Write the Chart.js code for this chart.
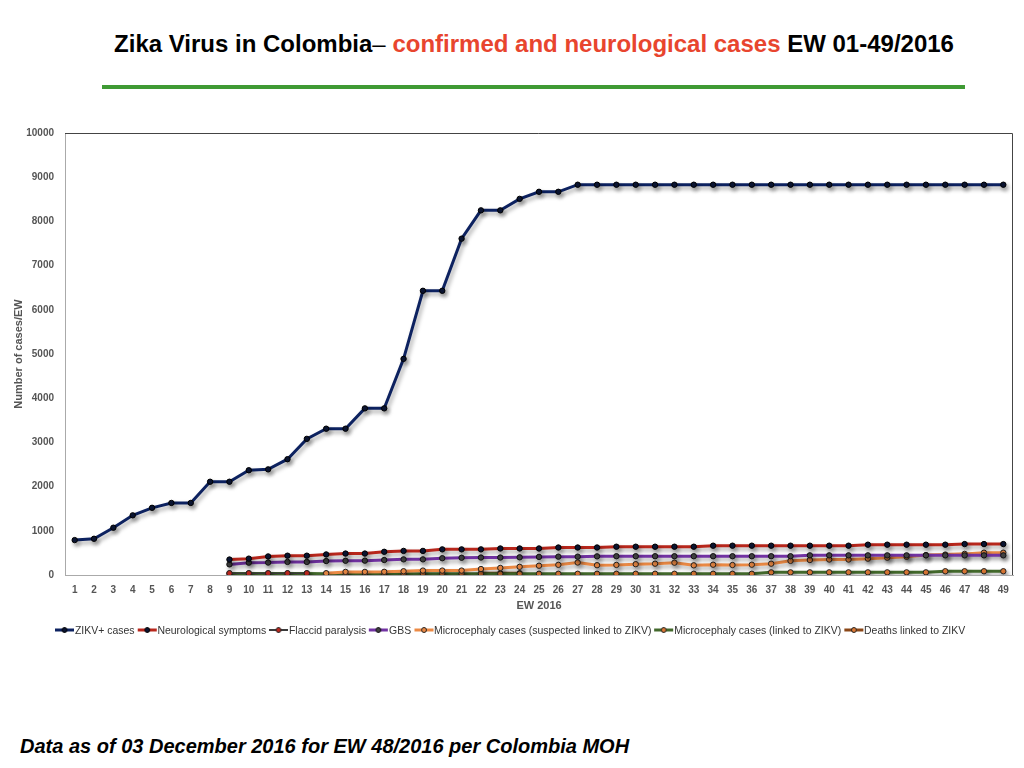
<!DOCTYPE html>
<html>
<head>
<meta charset="utf-8">
<script src="https://cdn.jsdelivr.net/npm/chart.js@4.4.1/dist/chart.umd.min.js"></script>
<style>
  html, body { margin: 0; padding: 0; background: #fff; }
  body { width: 1024px; height: 768px; position: relative; overflow: hidden; font-family: "Liberation Sans", Arial, sans-serif; }
  #title { position: absolute; left: 0; width: 1068px; top: 30px; text-align: center; font-weight: bold; font-size: 24px; color: #000; white-space: nowrap; }
  #title .red { color: #e8452e; }
  #rule { position: absolute; left: 102px; width: 863px; top: 85px; height: 4px; background: #3f9a34; }
  #wrap { position: absolute; left: 0; top: 120px; width: 1024px; height: 497px; }
  #legend { position: absolute; left: 55px; top: 624px; display: flex; align-items: center; white-space: nowrap;
            font-size: 11px; color: #333; transform-origin: 0 50%; }
  #legend .item { display: flex; align-items: center; margin-right: 3px; }
  #legend canvas { margin-right: 1px; }
  #foot { position: absolute; left: 20px; top: 735px; font-weight: bold; font-style: italic; font-size: 20px; color: #000; white-space: nowrap; }
</style>
</head>
<body>
<div id="title">Zika Virus in Colombia<span style="font-weight:normal">–</span>  <span class="red">confirmed and neurological cases</span> EW 01-49/2016</div>
<div id="rule"></div>
<div id="wrap"><canvas id="chart"></canvas></div>
<div id="legend"></div>
<div id="foot">Data as of 03 December 2016 for EW 48/2016 per Colombia MOH</div>
<script>
/* ── Data ────────────────────────────────────────────────────── */
const weeks = ['1','2','3','4','5','6','7','8','9','10','11','12','13','14','15','16','17','18','19','20',
  '21','22','23','24','25','26','27','28','29','30','31','32','33','34','35','36','37','38','39','40',
  '41','42','43','44','45','46','47','48','49'];
const yTicks = [0, 1000, 2000, 3000, 4000, 5000, 6000, 7000, 8000, 9000, 10000];

const zikvCases = [790, 820, 1070, 1350, 1520, 1630, 1630, 2110, 2110, 2370,
  2390, 2620, 3080, 3310, 3310, 3770, 3770, 4890, 6430, 6430,
  7610, 8250, 8250, 8510, 8670, 8670, 8830, 8830, 8830, 8830,
  8830, 8830, 8830, 8830, 8830, 8830, 8830, 8830, 8830, 8830,
  8830, 8830, 8830, 8830, 8830, 8830, 8830, 8830, 8830];
const neuroSymptoms = [null, null, null, null, null, null, null, null, 350, 370,
  420, 437, 437, 465, 485, 485, 525, 545, 545, 580,
  580, 580, 600, 600, 600, 622, 622, 622, 640, 640,
  640, 640, 640, 663, 663, 663, 663, 663, 663, 663,
  663, 686, 686, 686, 686, 686, 700, 700, 700];
const flaccidParalysis = [null, null, null, null, null, null, null, null, 40, 40,
  40, 40, 40, null, null, null, null, null, null, null,
  null, null, null, null, null, null, null, null, null, null,
  null, null, null, null, null, null, null, null, null, null,
  null, null, null, null, null, null, null, null, null];
const gbs = [null, null, null, null, null, null, null, null, 240, 279,
  282, 296, 296, 316, 322, 325, 339, 354, 354, 380,
  390, 395, 395, 400, 410, 415, 415, 422, 425, 425,
  425, 425, 425, 425, 425, 425, 425, 425, 445, 445,
  445, 445, 445, 445, 445, 445, 445, 445, 445];
const microSuspected = [null, null, null, null, null, null, null, null, null, null,
  null, null, null, 40, 70, 70, 72, 85, 100, 100,
  100, 135, 160, 185, 210, 230, 283, 222, 228, 245,
  256, 279, 219, 233, 226, 233, 256, 320, 339, 350,
  350, 370, 392, 412, 450, 462, 478, 505, 505];
const microLinked = [null, null, null, null, null, null, null, null, 35, 35,
  35, 35, 35, 28, 28, 28, 28, 28, 28, 28,
  28, 28, 28, 28, 28, 28, 28, 28, 28, 28,
  28, 28, 28, 28, 28, 28, 60, 60, 60, 60,
  60, 60, 60, 60, 60, 85, 85, 85, 85];
const deaths = [null, null, null, null, null, null, null, null, null, null,
  null, null, null, null, null, null, null, null, null, null,
  null, 40, 40, 40, null, null, null, null, null, null,
  null, null, null, null, null, null, null, null, null, null,
  null, null, null, null, null, null, null, null, null];

/* ── Series styling ──────────────────────────────────────────── */
const series = [
  { label: 'ZIKV+ cases', data: zikvCases, line: '#0d2260', dot: '#0b1533', dotBorder: '#000', width: 3 },
  { label: 'Neurological symptoms', data: neuroSymptoms, line: '#b8271c', dot: '#0b1533', dotBorder: '#000', width: 3 },
  { label: 'Flaccid paralysis', data: flaccidParalysis, line: '#3a3a3a', dot: '#c0281e', dotBorder: '#222', width: 1.5 },
  { label: 'GBS', data: gbs, line: '#7233a3', dot: '#444', dotBorder: '#111', width: 3 },
  { label: 'Microcephaly cases (suspected linked to ZIKV)', data: microSuspected, line: '#ec8a45', dot: '#ec8a45', dotBorder: '#222', width: 3 },
  { label: 'Microcephaly cases (linked to ZIKV)', data: microLinked, line: '#43692c', dot: '#e07a35', dotBorder: '#222', width: 3 },
  { label: 'Deaths linked to ZIKV', data: deaths, line: '#8b4717', dot: '#e07a35', dotBorder: '#222', width: 3 },
];

// little "line with dot" swatch for the legend
function swatch(s) {
  const c = document.createElement('canvas');
  c.width = 20; c.height = 8;
  const g = c.getContext('2d');
  g.strokeStyle = s.line; g.lineWidth = Math.max(2, s.width);
  g.beginPath(); g.moveTo(0, 4); g.lineTo(20, 4); g.stroke();
  g.fillStyle = s.dot; g.strokeStyle = s.dotBorder; g.lineWidth = 1;
  g.beginPath(); g.arc(10, 4, 2.5, 0, Math.PI * 2); g.fill(); g.stroke();
  return c;
}

/* ── Legend (html, squeezed to the reference width) ──────────── */
const legendEl = document.getElementById('legend');
series.forEach(s => {
  const item = document.createElement('span');
  item.className = 'item';
  item.appendChild(swatch(s));
  item.appendChild(document.createTextNode(s.label));
  legendEl.appendChild(item);
});
legendEl.style.transform = `scaleX(${913 / legendEl.scrollWidth})`;

/* ── Plugins ─────────────────────────────────────────────────── */
const lineShadow = {
  id: 'lineShadow',
  beforeDatasetsDraw(chart) {
    const ctx = chart.ctx;
    ctx.save();
    ctx.shadowColor = 'rgba(0,0,0,0.35)';
    ctx.shadowBlur = 4;
    ctx.shadowOffsetX = 2;
    ctx.shadowOffsetY = 3;
  },
  afterDatasetsDraw(chart) { chart.ctx.restore(); }
};

const frame = {
  id: 'frame',
  afterDraw(chart) {
    const { ctx, chartArea: a } = chart;
    ctx.save();
    ctx.strokeStyle = '#444';
    ctx.lineWidth = 1;
    ctx.beginPath();
    ctx.moveTo(a.left, a.top + 0.5); ctx.lineTo(a.right - 0.5, a.top + 0.5); ctx.lineTo(a.right - 0.5, a.bottom);
    ctx.stroke();
    ctx.restore();
  }
};

/* ── Chart ───────────────────────────────────────────────────── */
const tickFont = { family: '"Liberation Sans", Arial, sans-serif', size: 10, weight: 'bold' };
const titleFont = { family: '"Liberation Sans", Arial, sans-serif', size: 11, weight: 'bold' };

new Chart(document.getElementById('chart'), {
  type: 'line',
  data: {
    labels: weeks,
    datasets: series.map(s => ({
      label: s.label,
      data: s.data,
      borderColor: s.line,
      backgroundColor: s.line,
      borderWidth: s.width,
      pointRadius: 2.7,
      pointBorderWidth: 1,
      pointBackgroundColor: s.dot,
      pointBorderColor: s.dotBorder,
      tension: 0,
      fill: false,
      spanGaps: false,
    })),
  },
  options: {
    responsive: true, maintainAspectRatio: false,
    animation: false,
    layout: { padding: { top: 13, right: 11, left: 0, bottom: 0 } },
    plugins: {
      legend: { display: false },
      tooltip: { enabled: false },
    },
    scales: {
      x: {
        offset: true,
        grid: { display: false },
        border: { display: true, color: '#aaa', width: 1 },
        ticks: { color: '#555', font: tickFont, padding: 1, maxRotation: 0, autoSkip: false },
        title: { display: true, text: 'EW 2016', color: '#555', font: titleFont, padding: { top: 2 } },
        afterFit(scale) { scale.height = 42; },
      },
      y: {
        min: 0, max: 10000,
        grid: { display: false },
        border: { display: true, color: '#aaa', width: 1 },
        afterBuildTicks(scale) { scale.ticks = yTicks.map(v => ({ value: v })); },
        ticks: { color: '#555', font: tickFont, padding: 3, callback: v => String(v) },
        title: { display: true, text: 'Number of cases/EW', color: '#555', font: titleFont, padding: { top: 12, bottom: 0 } },
        afterFit(scale) { scale.width = 65; },
      },
    },
  },
  plugins: [lineShadow, frame],
});
</script>
</body>
</html>
